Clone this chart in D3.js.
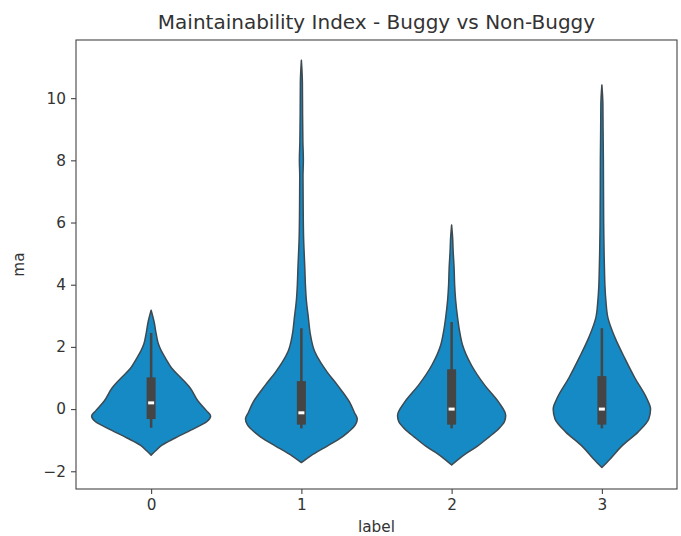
<!DOCTYPE html>
<html lang="en">
<head>
    <meta charset="UTF-8">
    <title>Maintainability Index violin</title>
    <style>
        body { margin: 0; background: #fff; }
        text { font-family: "DejaVu Sans", sans-serif; fill: #333; }
    </style>
</head>
<body>
    <div id="my_dataviz"></div>
    <script src="https://d3js.org/d3.v7.min.js"></script>
    <script>

        // categories on the x axis
        var categories = ["0", "1", "2", "3"]
        var yTicks = [-2, 0, 2, 4, 6, 8, 10]

        // violin outlines: [ma value, relative density]
        var density0 = [[3.18, 0], [2.8, 0.05], [2.41, 0.085], [2.1, 0.12], [1.87, 0.17], [1.6, 0.25], [1.32, 0.34],
            [1.0, 0.5], [0.68, 0.65], [0.26, 0.78], [-0.05, 0.92], [-0.22, 0.99], [-0.4, 0.93], [-0.61, 0.73],
            [-0.93, 0.4], [-1.16, 0.18], [-1.35, 0.07], [-1.48, 0]]
        var density1 = [[11.22, 0], [10.5, 0.017], [9.5, 0.02], [8.6, 0.025], [8.0, 0.033], [7.5, 0.027], [6.5, 0.03],
            [5.5, 0.037], [5.0, 0.047], [4.5, 0.058], [4.0, 0.067], [3.5, 0.083], [2.93, 0.117], [2.4, 0.15],
            [1.86, 0.22], [1.5, 0.32], [1.19, 0.43], [0.77, 0.6], [0.23, 0.8], [-0.1, 0.88], [-0.32, 0.93],
            [-0.5, 0.9], [-0.74, 0.78], [-1.0, 0.6], [-1.19, 0.43], [-1.51, 0.15], [-1.72, 0]]
        var density2 = [[5.92, 0], [5.5, 0.017], [5.1, 0.025], [4.5, 0.042], [4.0, 0.05], [3.5, 0.067], [2.93, 0.1],
            [2.5, 0.133], [2.07, 0.18], [1.41, 0.33], [0.77, 0.55], [0.23, 0.78], [-0.21, 0.9], [-0.4, 0.88],
            [-0.64, 0.78], [-0.9, 0.62], [-1.19, 0.43], [-1.51, 0.18], [-1.8, 0]]
        var density3 = [[10.42, 0], [9.8, 0.017], [9.0, 0.02], [8.0, 0.025], [7.0, 0.027], [6.0, 0.03], [5.0, 0.037],
            [4.5, 0.043], [4.0, 0.05], [3.48, 0.067], [2.94, 0.1], [2.29, 0.22], [1.64, 0.38], [1.0, 0.55],
            [0.33, 0.75], [0.0, 0.81], [-0.32, 0.78], [-0.74, 0.6], [-1.19, 0.33], [-1.62, 0.13], [-1.88, 0]]

        // inner box: [whisker low, q1, median, q3, whisker high]
        var box0 = [-0.6, -0.32, 0.2, 1.02, 2.45]
        var box1 = [-0.62, -0.5, -0.12, 0.9, 2.6]
        var box2 = [-0.62, -0.5, 0.0, 1.28, 2.8]
        var box3 = [-0.62, -0.5, 0.0, 1.06, 2.6]

        var densities = [density0, density1, density2, density3]
        var boxes = [box0, box1, box2, box3]

        var W = 681, H = 536
        var margin = { top: 40, right: 4, bottom: 47, left: 76 },
            width = W - margin.left - margin.right,
            height = H - margin.top - margin.bottom;

        var svg = d3.select("#my_dataviz")
            .append("svg")
            .attr("width", W)
            .attr("height", H)

        var g = svg.append("g")
            .attr("transform", "translate(" + margin.left + "," + margin.top + ")");

        // x: category positions, -0.5 .. 3.5
        var x = d3.scaleLinear()
            .domain([-0.5, 3.5])
            .range([0, width]);

        var y = d3.scaleLinear()
            .domain([-2.57, 11.87])
            .range([height, 0]);

        // density -> half width in px (0.4 of a category)
        var w = d3.scaleLinear()
            .domain([0, 1])
            .range([0, x(0.4) - x(0)]);

        // violins
        densities.forEach(function (dens, i) {
            var cx = x(i)
            var area = d3.area()
                .curve(d3.curveMonotoneY)
                .y(function (d) { return y(d[0]); })
                .x0(function (d) { return cx - w(d[1]); })
                .x1(function (d) { return cx + w(d[1]); })
            g.append("path")
                .datum(dens)
                .attr("d", area)
                .attr("fill", "#168ac4")
                .attr("stroke", "#3d4a52")
                .attr("stroke-width", 1.5)
                .attr("stroke-linejoin", "round")
        })

        // inner boxes
        boxes.forEach(function (b, i) {
            var cx = x(i)
            g.append("line")
                .attr("x1", cx).attr("x2", cx)
                .attr("y1", y(b[0])).attr("y2", y(b[4]))
                .attr("stroke", "#454545")
                .attr("stroke-width", 2.5)
            g.append("rect")
                .attr("x", cx - 4.5)
                .attr("width", 9)
                .attr("y", y(b[3]))
                .attr("height", y(b[1]) - y(b[3]))
                .attr("fill", "#454545")
            g.append("line")
                .attr("x1", cx - 3).attr("x2", cx + 3)
                .attr("y1", y(b[2])).attr("y2", y(b[2]))
                .attr("stroke", "#fff")
                .attr("stroke-width", 3)
        })

        // axes
        var xAxis = g.append("g")
            .attr("transform", "translate(0," + height + ")")
            .call(d3.axisBottom(x).tickValues([0, 1, 2, 3]).tickFormat(function (d) { return categories[d]; })
                .tickSize(5).tickPadding(5))
        var yAxis = g.append("g")
            .call(d3.axisLeft(y).tickValues(yTicks).tickFormat(function (d) { return d < 0 ? "\u2212" + (-d) : d; })
                .tickSize(5).tickPadding(5))

        ;[xAxis, yAxis].forEach(function (ax) {
            ax.select(".domain").remove()
            ax.selectAll(".tick line").attr("stroke", "#444").attr("stroke-width", 1.1)
            ax.selectAll(".tick text").style("font-size", "15.3px").style("fill", "#333")
        })

        // frame
        g.append("rect")
            .attr("width", width)
            .attr("height", height)
            .attr("fill", "none")
            .attr("stroke", "#444")
            .attr("stroke-width", 1.1)

        // titles
        svg.append("text")
            .attr("x", margin.left + width / 2)
            .attr("y", 29)
            .attr("text-anchor", "middle")
            .style("font-size", "20px")
            .text("Maintainability Index - Buggy vs Non-Buggy")

        svg.append("text")
            .attr("x", margin.left + width / 2)
            .attr("y", 532)
            .attr("text-anchor", "middle")
            .style("font-size", "15.3px")
            .text("label")

        svg.append("text")
            .attr("transform", "translate(24," + (margin.top + height / 2) + ") rotate(-90)")
            .attr("text-anchor", "middle")
            .style("font-size", "15.3px")
            .text("ma")

    </script>
</body>
</html>
